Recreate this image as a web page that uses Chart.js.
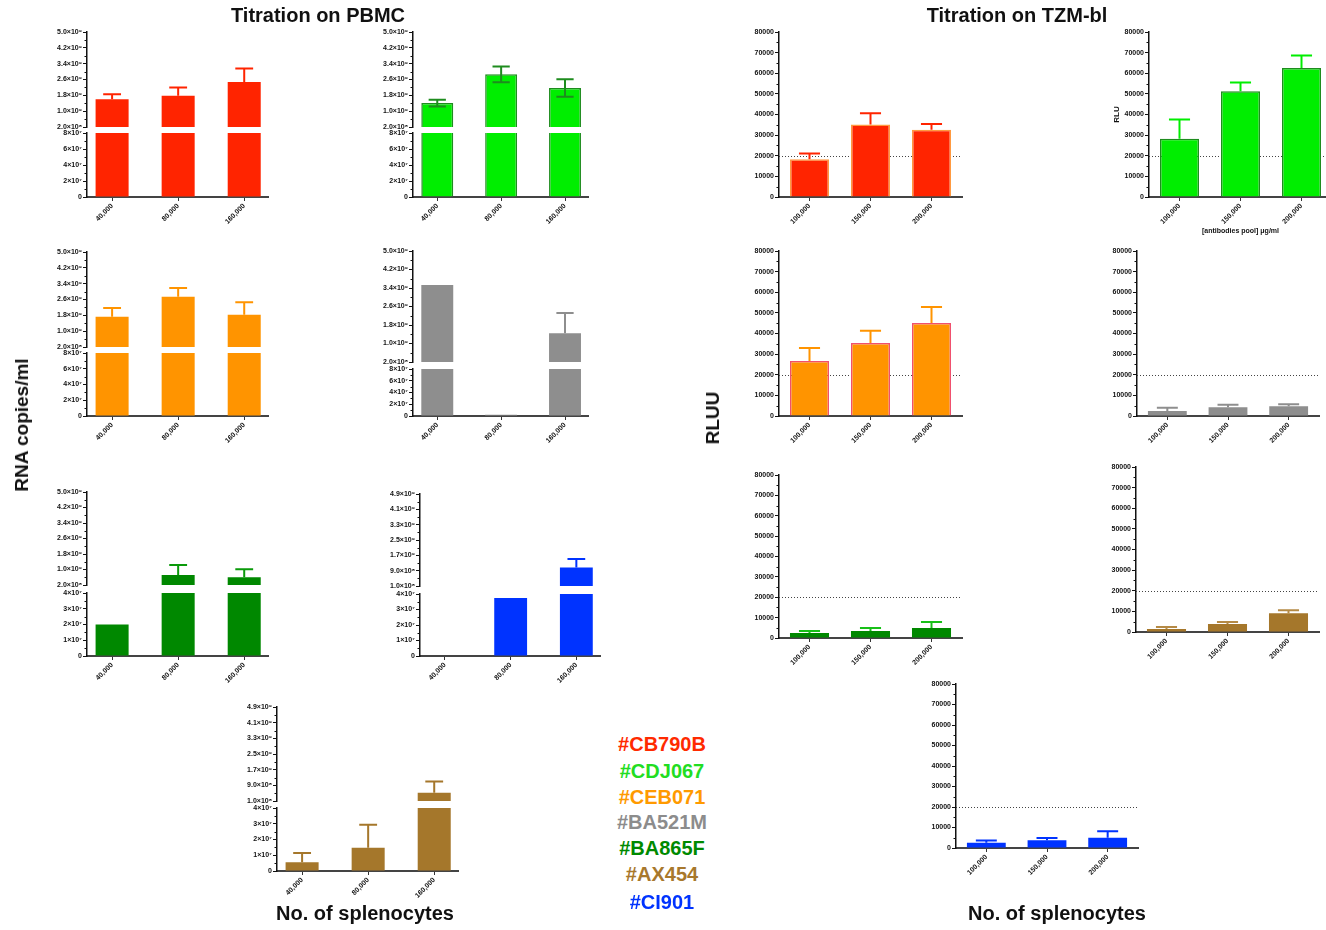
<!DOCTYPE html>
<html>
<head>
<meta charset="utf-8">
<title>Titration on PBMC and TZM-bl</title>
<script src="https://cdn.jsdelivr.net/npm/chart.js@4.4.1/dist/chart.umd.min.js"></script>
<style>
  html, body { margin: 0; padding: 0; background: #fff; }
  #page { position: relative; width: 1326px; height: 930px; overflow: hidden; font-family: "Liberation Sans", Arial, sans-serif; }
  #page canvas { position: absolute; }
  .txt { position: absolute; font-weight: bold; font-size: 20px; white-space: nowrap; color: #111; transform: translate(-50%, -50%); }
  .vert { font-size: 19px; transform: translate(-50%, -50%) rotate(-90deg); }
</style>
</head>
<body>
<div id="page"></div>
<script>
// Categories
const pbmcCats = ['40,000', '80,000', '160,000'];
const tzmCats = ['100,000', '150,000', '200,000'];
const isolates = ['#CB790B', '#CDJ067', '#CEB071', '#BA521M', '#BA865F', '#AX454', '#CI901'];

// Axis ranges (split PBMC axes, TZM-bl axes)
const pbmcUpperA = [2e8, 5e9];
const pbmcUpperB = [1e8, 4.9e9];
const pbmcLowerA = [0, 8e7];
const pbmcLowerB = [0, 4e7];
const tzmRange = [0, 80000];
const tzmCutoff = 20000;

// PBMC - RNA copies/ml, mean and SD
const pbmcCB790B = [1.6e9, 1.78e9, 2.47e9];
const pbmcCB790BErr = [0.25e9, 0.42e9, 0.68e9];
const pbmcCDJ067 = [1.41e9, 2.86e9, 2.17e9];
const pbmcCDJ067Err = [0.17e9, 0.4e9, 0.44e9];
const pbmcCEB071 = [1.73e9, 2.74e9, 1.83e9];
const pbmcCEB071Err = [0.44e9, 0.44e9, 0.63e9];
const pbmcBA521M = [3.53e9, 2e6, 1.44e9];
const pbmcBA521MErr = [0, 0, 0.88e9];
const pbmcBA865F = [2e7, 7.2e8, 6.0e8];
const pbmcBA865FErr = [0, 0.51e9, 0.41e9];
const pbmcCI901 = [0, 3.75e7, 1.07e9];
const pbmcCI901Err = [0, 0, 0.44e9];
const pbmcAX454 = [5.5e6, 1.47e7, 5.2e8];
const pbmcAX454Err = [0.6e7, 1.47e7, 0.57e9];

// TZM-bl - RLU, mean and SD
const tzmCB790B = [18300, 35200, 32600];
const tzmCB790BErr = [2800, 5400, 2800];
const tzmCDJ067 = [28200, 51300, 62500];
const tzmCDJ067Err = [9400, 4200, 6100];
const tzmCEB071 = [26700, 35400, 45100];
const tzmCEB071Err = [6300, 5900, 7800];
const tzmBA521M = [2400, 4200, 4700];
const tzmBA521MErr = [1600, 1300, 1000];
const tzmBA865F = [2500, 3400, 4900];
const tzmBA865FErr = [900, 1500, 2900];
const tzmAX454 = [1450, 3900, 9050];
const tzmAX454Err = [950, 950, 1450];
const tzmCI901 = [2600, 3750, 5050];
const tzmCI901Err = [1000, 1150, 3100];

const FONT = '"Liberation Sans", Arial, "DejaVu Sans", sans-serif';
const SUP = '⁰¹²³⁴⁵⁶⁷⁸⁹';
const YW = 62, PAD_T = 9, PAD_R = 10, PAD_B = 9;
const page = document.getElementById('page');

// 5.0×10⁹ style labels
function sci(v, digits) {
    if (v === 0) return '0';
    const e = Math.floor(Math.log10(v) + 1e-9);
    const m = v / Math.pow(10, e);
    return m.toFixed(digits) + '×10' + String(e).split('').map(d => SUP[+d]).join('');
}

// Error bars drawn on top of the bars
Chart.register({
    id: 'errorBars',
    afterDatasetsDraw(chart) {
        const ctx = chart.ctx, area = chart.chartArea;
        ctx.save();
        ctx.beginPath();
        ctx.rect(area.left, area.top - 1, area.right - area.left, area.bottom - area.top + 1);
        ctx.clip();
        chart.data.datasets.forEach((ds, di) => {
            if (!ds.errors) return;
            const meta = chart.getDatasetMeta(di);
            const yScale = chart.scales[meta.yAxisID];
            meta.data.forEach((bar, i) => {
                const err = ds.errors[i];
                if (!err) return;
                const v = ds.data[i].y;
                const yTop = yScale.getPixelForValue(v + err);
                const yLow = ds.errorBoth ? yScale.getPixelForValue(v - err) : bar.y;
                const half = bar.width * 0.27;
                ctx.strokeStyle = ds.errorColor;
                ctx.lineWidth = 2;
                ctx.beginPath();
                ctx.moveTo(bar.x, yLow);
                ctx.lineTo(bar.x, yTop);
                ctx.moveTo(bar.x - half, yTop);
                ctx.lineTo(bar.x + half, yTop);
                if (ds.errorBoth) {
                    ctx.moveTo(bar.x - half, yLow);
                    ctx.lineTo(bar.x + half, yLow);
                }
                ctx.stroke();
            });
        });
        ctx.restore();
    }
});

// Dotted cutoff line (under the bars)
Chart.register({
    id: 'cutoff',
    beforeDatasetsDraw(chart, args, opts) {
        if (opts.value == null) return;
        const ctx = chart.ctx, area = chart.chartArea;
        const y = Math.round(chart.scales.y.getPixelForValue(opts.value)) + 0.5;
        ctx.save();
        ctx.strokeStyle = '#444';
        ctx.lineWidth = 1;
        ctx.setLineDash([1, 2]);
        ctx.beginPath();
        ctx.moveTo(area.left, y);
        ctx.lineTo(area.right, y);
        ctx.stroke();
        ctx.restore();
    }
});

// Short minor ticks on the y axis
Chart.register({
    id: 'minorTicks',
    afterDraw(chart) {
        const ctx = chart.ctx, y = chart.scales.y;
        ctx.save();
        ctx.strokeStyle = '#111';
        ctx.lineWidth = 1;
        y.ticks.forEach((t, i) => {
            if (i % 2 === 0) return;
            const py = Math.round(y.getPixelForTick(i)) + 0.5;
            ctx.beginPath();
            ctx.moveTo(y.right - 2.5, py);
            ctx.lineTo(y.right, py);
            ctx.stroke();
        });
        ctx.restore();
    }
});

function addBars(o) {
    const canvas = document.createElement('canvas');
    page.appendChild(canvas);
    canvas.width = (o.x1 - o.x0) + YW + PAD_R;
    canvas.height = (o.bottom - o.top) + PAD_T + o.xh + PAD_B;
    canvas.style.left = (o.x0 - YW) + 'px';
    canvas.style.top = (o.top - PAD_T) + 'px';
    const s = o.style;
    const tickFont = { family: FONT, size: 7, weight: 'bold' };

    return new Chart(canvas, {
        type: 'bar',
        data: {
            datasets: [{
                data: o.values.map((v, i) => ({ x: i, y: v })),
                backgroundColor: s.fill,
                borderColor: s.edge || s.fill,
                borderWidth: s.edge ? 1.5 : 0,
                barPercentage: o.barPct,
                categoryPercentage: 1,
                clip: 0,
                errors: o.errors,
                errorColor: s.err || s.fill,
                errorBoth: !!s.both
            }]
        },
        options: {
            responsive: false,
            animation: false,
            devicePixelRatio: 1,
            events: [],
            layout: { padding: { left: 0, right: PAD_R, top: PAD_T, bottom: PAD_B } },
            plugins: {
                legend: { display: false },
                tooltip: { enabled: false },
                cutoff: { value: o.cutoff }
            },
            scales: {
                x: {
                    type: 'linear',
                    display: o.showX,
                    min: o.xr[0],
                    max: o.xr[1],
                    offset: false,
                    afterBuildTicks: sc => { sc.ticks = o.cats.map((c, i) => ({ value: i })); },
                    afterFit: sc => { sc.height = o.xh; },
                    ticks: {
                        autoSkip: false,
                        minRotation: 45,
                        maxRotation: 45,
                        padding: 1,
                        color: '#111',
                        font: tickFont,
                        callback: v => o.cats[v]
                    },
                    grid: { offset: false, drawOnChartArea: false, tickLength: 4, tickColor: '#333' },
                    border: { color: '#444', width: 2 },
                    title: o.xTitle ? {
                        display: true, text: o.xTitle, color: '#111',
                        font: { family: FONT, size: 7, weight: 'bold' },
                        padding: { top: 0, bottom: 3 }
                    } : { display: false }
                },
                y: {
                    type: 'linear',
                    min: o.yr[0],
                    max: o.yr[1],
                    afterFit: sc => { sc.width = YW; },
                    ticks: {
                        stepSize: o.step,
                        autoSkip: false,
                        padding: 1,
                        color: '#111',
                        font: tickFont,
                        callback: (v, i) => (i % 2 ? '' : o.fmt(v))
                    },
                    grid: {
                        drawOnChartArea: false,
                        tickLength: 4,
                        tickColor: c => (c.index % 2 ? 'rgba(0,0,0,0)' : '#111')
                    },
                    border: { color: '#111', width: 1.5 },
                    title: o.yTitle ? {
                        display: true, text: o.yTitle, color: '#111',
                        font: { family: FONT, size: 8, weight: 'bold' },
                        padding: { top: 25, bottom: 0 }
                    } : { display: false }
                }
            }
        }
    });
}

// PBMC panels with a split y axis
const pbmcX = [-0.38, 2.36];
const pbmcPanels = [
    { values: pbmcCB790B, errors: pbmcCB790BErr, style: { fill: '#ff2400' }, up: pbmcUpperA, low: pbmcLowerA,
      x0: 87, x1: 268, upper: [32, 127.5], lower: [133, 197] },
    { values: pbmcCDJ067, errors: pbmcCDJ067Err, style: { fill: '#00ee00', edge: '#1e8c1e', err: '#1e8c1e', both: true }, up: pbmcUpperA, low: pbmcLowerA,
      x0: 413, x1: 588, upper: [32, 127.5], lower: [133, 197] },
    { values: pbmcCEB071, errors: pbmcCEB071Err, style: { fill: '#ff9400' }, up: pbmcUpperA, low: pbmcLowerA,
      x0: 87, x1: 268, upper: [251.5, 347], lower: [353, 416.5] },
    { values: pbmcBA521M, errors: pbmcBA521MErr, style: { fill: '#8e8e8e' }, up: pbmcUpperA, low: pbmcLowerA,
      x0: 413, x1: 588, upper: [251, 362], lower: [369, 416] },
    { values: pbmcBA865F, errors: pbmcBA865FErr, style: { fill: '#008800', err: '#0a9a0a' }, up: pbmcUpperA, low: pbmcLowerB,
      x0: 87, x1: 268, upper: [492, 585], lower: [593, 656] },
    { values: pbmcCI901, errors: pbmcCI901Err, style: { fill: '#0033ff' }, up: pbmcUpperB, low: pbmcLowerB,
      x0: 420, x1: 600, upper: [494, 586], lower: [594, 656] },
    { values: pbmcAX454, errors: pbmcAX454Err, style: { fill: '#a5772b' }, up: pbmcUpperB, low: pbmcLowerB,
      x0: 277, x1: 458, upper: [707, 801], lower: [808, 871] }
];

pbmcPanels.forEach(p => {
    const common = { cats: pbmcCats, values: p.values, errors: p.errors, style: p.style,
                     xr: pbmcX, barPct: 0.5, x0: p.x0, x1: p.x1 };
    addBars(Object.assign({}, common, {
        top: p.upper[0], bottom: p.upper[1], xh: 0, showX: false,
        yr: p.up, step: 4e8, fmt: v => sci(v, 1)
    }));
    addBars(Object.assign({}, common, {
        top: p.lower[0], bottom: p.lower[1], xh: 30, showX: true,
        yr: p.low, step: p.low[1] / 8, fmt: v => sci(v, 0)
    }));
});

// TZM-bl panels
const tzmPanels = [
    { values: tzmCB790B, errors: tzmCB790BErr, style: { fill: '#ff2400', edge: '#ff9a40', err: '#ff2400' },
      x0: 779, x1: 962, top: 32, zero: 197 },
    { values: tzmCDJ067, errors: tzmCDJ067Err, style: { fill: '#00ee00', edge: '#1e8c1e', err: '#00ee00' },
      x0: 1149, x1: 1332, top: 32, zero: 197, yTitle: 'RLU', xTitle: '[antibodies pool] μg/ml' },
    { values: tzmCEB071, errors: tzmCEB071Err, style: { fill: '#ff9400', edge: '#f0506e', err: '#ff9400' },
      x0: 779, x1: 962, top: 251, zero: 416 },
    { values: tzmBA521M, errors: tzmBA521MErr, style: { fill: '#8e8e8e' },
      x0: 1137, x1: 1319, top: 251, zero: 416 },
    { values: tzmBA865F, errors: tzmBA865FErr, style: { fill: '#008800', err: '#18c018' },
      x0: 779, x1: 962, top: 475, zero: 638 },
    { values: tzmAX454, errors: tzmAX454Err, style: { fill: '#a5772b', err: '#b58a45' },
      x0: 1136, x1: 1319, top: 467, zero: 632 },
    { values: tzmCI901, errors: tzmCI901Err, style: { fill: '#0033ff' },
      x0: 956, x1: 1138, top: 684, zero: 848 }
];

tzmPanels.forEach(p => {
    addBars({
        cats: tzmCats, values: p.values, errors: p.errors, style: p.style,
        xr: [-0.5, 2.5], barPct: 0.64, x0: p.x0, x1: p.x1,
        top: p.top, bottom: p.zero, xh: p.xTitle ? 41 : 30, showX: true,
        yr: tzmRange, step: 5000, fmt: v => String(v), cutoff: tzmCutoff,
        yTitle: p.yTitle, xTitle: p.xTitle
    });
});

// Page text
const legendColors = ['#ff2a00', '#22dd22', '#ff9a00', '#8c8c8c', '#008a00', '#a8782c', '#0033ff'];
const legendY = [744, 771, 797, 822, 848, 874, 902];
function addText(text, x, y, cls, color) {
    const d = document.createElement('div');
    d.className = 'txt' + (cls ? ' ' + cls : '');
    d.textContent = text;
    d.style.left = x + 'px';
    d.style.top = y + 'px';
    if (color) d.style.color = color;
    page.appendChild(d);
}
addText('Titration on PBMC', 318, 15);
addText('Titration on TZM-bl', 1017, 15);
addText('RNA copies/ml', 22, 425, 'vert');
addText('RLUU', 713, 418, 'vert');
addText('No. of splenocytes', 365, 913);
addText('No. of splenocytes', 1057, 913);
isolates.forEach((name, i) => addText(name, 662, legendY[i], '', legendColors[i]));
</script>
</body>
</html>
